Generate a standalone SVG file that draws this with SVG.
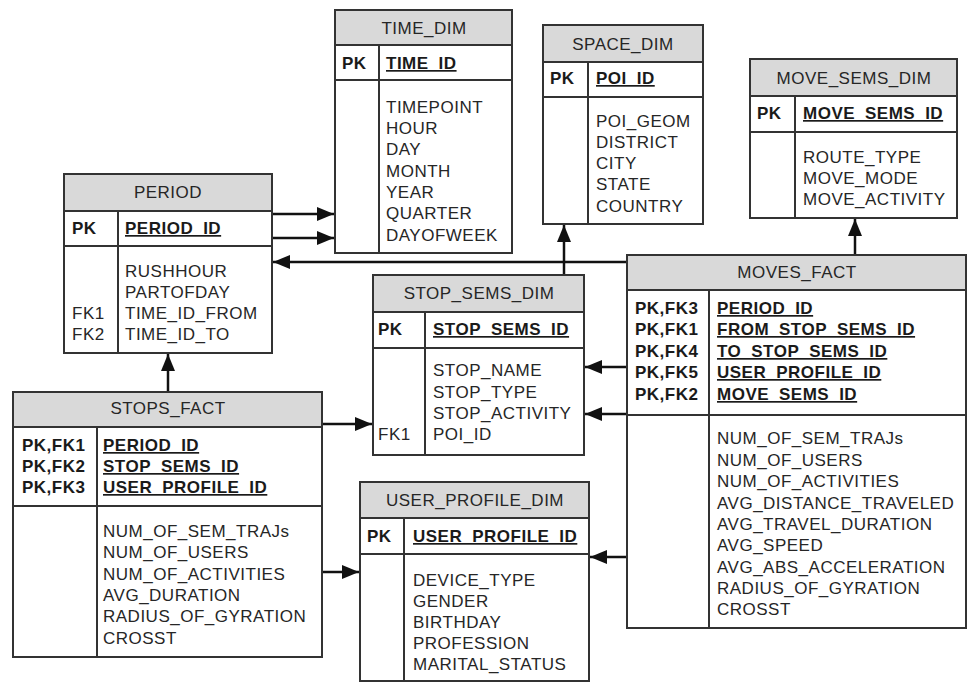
<svg xmlns="http://www.w3.org/2000/svg" width="973" height="683" viewBox="0 0 973 683">
<style>
.box{fill:#fff;stroke:#333;stroke-width:2}
.hdr{fill:#d9d9d9;stroke:#333;stroke-width:2}
.ln{stroke:#333;stroke-width:2}
text{font-family:"Liberation Sans",Arial,sans-serif;font-size:17px;letter-spacing:0.5px;fill:#262626}
.ttl{text-anchor:middle}
.b{font-weight:bold;fill:#1a1a1a}
.u{text-decoration:underline}
.con{fill:none;stroke:#111;stroke-width:2.5}
</style>
<defs>
<marker id="ah" markerUnits="userSpaceOnUse" markerWidth="18" markerHeight="16" refX="17" refY="7" orient="auto">
<path d="M0,0 L17,7 L0,14 z" fill="#111"/>
</marker>
</defs>
<rect width="973" height="683" fill="#fff"/>

<g id="connectors">
<path class="con" d="M272,214 H334" marker-end="url(#ah)"/>
<path class="con" d="M272,238 H334" marker-end="url(#ah)"/>
<path class="con" d="M627,262 H273" marker-end="url(#ah)"/>
<path class="con" d="M564,275 V225" marker-end="url(#ah)"/>
<path class="con" d="M855,255 V219" marker-end="url(#ah)"/>
<path class="con" d="M627,367 H585" marker-end="url(#ah)"/>
<path class="con" d="M627,414 H585" marker-end="url(#ah)"/>
<path class="con" d="M322,424 H372" marker-end="url(#ah)"/>
<path class="con" d="M168,392 V354" marker-end="url(#ah)"/>
<path class="con" d="M322,572 H359" marker-end="url(#ah)"/>
<path class="con" d="M627,557 H590" marker-end="url(#ah)"/>
</g>

<g id="period">
<rect class="box" x="64" y="174" width="208" height="179"/>
<rect class="hdr" x="64" y="174" width="208" height="37"/>
<line class="ln" x1="64" y1="246" x2="272" y2="246"/>
<line class="ln" x1="118" y1="211" x2="118" y2="353"/>
<text class="ttl" x="168" y="198">PERIOD</text>
<text class="b" x="72" y="234">PK</text>
<text class="b u" x="125" y="234">PERIOD_ID</text>
<text x="125" y="277">RUSHHOUR</text>
<text x="125" y="298">PARTOFDAY</text>
<text x="72" y="319">FK1</text>
<text x="125" y="319">TIME_ID_FROM</text>
<text x="72" y="340">FK2</text>
<text x="125" y="340">TIME_ID_TO</text>
</g>

<g id="time_dim">
<rect class="box" x="335" y="10" width="177" height="243"/>
<rect class="hdr" x="335" y="10" width="177" height="35"/>
<line class="ln" x1="335" y1="80" x2="512" y2="80"/>
<line class="ln" x1="379" y1="45" x2="379" y2="253"/>
<text class="ttl" x="424" y="34">TIME_DIM</text>
<text class="b" x="342" y="69">PK</text>
<text class="b u" x="386" y="69">TIME_ID</text>
<text x="386" y="113">TIMEPOINT</text>
<text x="386" y="134">HOUR</text>
<text x="386" y="155">DAY</text>
<text x="386" y="177">MONTH</text>
<text x="386" y="198">YEAR</text>
<text x="386" y="219">QUARTER</text>
<text x="386" y="241">DAYOFWEEK</text>
</g>

<g id="space_dim">
<rect class="box" x="543" y="25" width="160" height="199"/>
<rect class="hdr" x="543" y="25" width="160" height="37"/>
<line class="ln" x1="543" y1="97" x2="703" y2="97"/>
<line class="ln" x1="588" y1="62" x2="588" y2="224"/>
<text class="ttl" x="623" y="50">SPACE_DIM</text>
<text class="b" x="550" y="84">PK</text>
<text class="b u" x="596" y="84">POI_ID</text>
<text x="596" y="127">POI_GEOM</text>
<text x="596" y="148">DISTRICT</text>
<text x="596" y="169">CITY</text>
<text x="596" y="190">STATE</text>
<text x="596" y="212">COUNTRY</text>
</g>

<g id="move_sems_dim">
<rect class="box" x="750" y="59" width="207" height="159"/>
<rect class="hdr" x="750" y="59" width="207" height="37"/>
<line class="ln" x1="750" y1="132" x2="957" y2="132"/>
<line class="ln" x1="795" y1="96" x2="795" y2="218"/>
<text class="ttl" x="854" y="84">MOVE_SEMS_DIM</text>
<text class="b" x="757" y="119">PK</text>
<text class="b u" x="803" y="119">MOVE_SEMS_ID</text>
<text x="803" y="163">ROUTE_TYPE</text>
<text x="803" y="184">MOVE_MODE</text>
<text x="803" y="205">MOVE_ACTIVITY</text>
</g>

<g id="stop_sems_dim">
<rect class="box" x="373" y="275" width="211" height="180"/>
<rect class="hdr" x="373" y="275" width="211" height="37"/>
<line class="ln" x1="373" y1="348" x2="584" y2="348"/>
<line class="ln" x1="425" y1="312" x2="425" y2="455"/>
<text class="ttl" x="479" y="299">STOP_SEMS_DIM</text>
<text class="b" x="378" y="335">PK</text>
<text class="b u" x="433" y="335">STOP_SEMS_ID</text>
<text x="433" y="376">STOP_NAME</text>
<text x="433" y="398">STOP_TYPE</text>
<text x="433" y="419">STOP_ACTIVITY</text>
<text x="378" y="440">FK1</text>
<text x="433" y="440">POI_ID</text>
</g>

<g id="moves_fact">
<rect class="box" x="627" y="255" width="339" height="373"/>
<rect class="hdr" x="627" y="255" width="339" height="35"/>
<line class="ln" x1="627" y1="415" x2="966" y2="415"/>
<line class="ln" x1="709" y1="290" x2="709" y2="628"/>
<text class="ttl" x="797" y="278">MOVES_FACT</text>
<text class="b" x="635" y="314">PK,FK3</text>
<text class="b u" x="717" y="314">PERIOD_ID</text>
<text class="b" x="635" y="335">PK,FK1</text>
<text class="b u" x="717" y="335">FROM_STOP_SEMS_ID</text>
<text class="b" x="635" y="357">PK,FK4</text>
<text class="b u" x="717" y="357">TO_STOP_SEMS_ID</text>
<text class="b" x="635" y="378">PK,FK5</text>
<text class="b u" x="717" y="378">USER_PROFILE_ID</text>
<text class="b" x="635" y="400">PK,FK2</text>
<text class="b u" x="717" y="400">MOVE_SEMS_ID</text>
<text x="717" y="444">NUM_OF_SEM_TRAJs</text>
<text x="717" y="466">NUM_OF_USERS</text>
<text x="717" y="487">NUM_OF_ACTIVITIES</text>
<text x="717" y="509">AVG_DISTANCE_TRAVELED</text>
<text x="717" y="530">AVG_TRAVEL_DURATION</text>
<text x="717" y="551">AVG_SPEED</text>
<text x="717" y="573">AVG_ABS_ACCELERATION</text>
<text x="717" y="594">RADIUS_OF_GYRATION</text>
<text x="717" y="615">CROSST</text>
</g>

<g id="stops_fact">
<rect class="box" x="13" y="392" width="309" height="265"/>
<rect class="hdr" x="13" y="392" width="309" height="35"/>
<line class="ln" x1="13" y1="506" x2="322" y2="506"/>
<line class="ln" x1="97" y1="427" x2="97" y2="657"/>
<text class="ttl" x="168" y="414">STOPS_FACT</text>
<text class="b" x="22" y="451">PK,FK1</text>
<text class="b u" x="103" y="451">PERIOD_ID</text>
<text class="b" x="22" y="472">PK,FK2</text>
<text class="b u" x="103" y="472">STOP_SEMS_ID</text>
<text class="b" x="22" y="493">PK,FK3</text>
<text class="b u" x="103" y="493">USER_PROFILE_ID</text>
<text x="103" y="537">NUM_OF_SEM_TRAJs</text>
<text x="103" y="558">NUM_OF_USERS</text>
<text x="103" y="580">NUM_OF_ACTIVITIES</text>
<text x="103" y="601">AVG_DURATION</text>
<text x="103" y="622">RADIUS_OF_GYRATION</text>
<text x="103" y="644">CROSST</text>
</g>

<g id="user_profile_dim">
<rect class="box" x="360" y="482" width="229" height="199"/>
<rect class="hdr" x="360" y="482" width="229" height="36"/>
<line class="ln" x1="360" y1="554" x2="589" y2="554"/>
<line class="ln" x1="404" y1="518" x2="404" y2="681"/>
<text class="ttl" x="475" y="506">USER_PROFILE_DIM</text>
<text class="b" x="367" y="542">PK</text>
<text class="b u" x="413" y="542">USER_PROFILE_ID</text>
<text x="413" y="586">DEVICE_TYPE</text>
<text x="413" y="607">GENDER</text>
<text x="413" y="628">BIRTHDAY</text>
<text x="413" y="649">PROFESSION</text>
<text x="413" y="670">MARITAL_STATUS</text>
</g>
</svg>
